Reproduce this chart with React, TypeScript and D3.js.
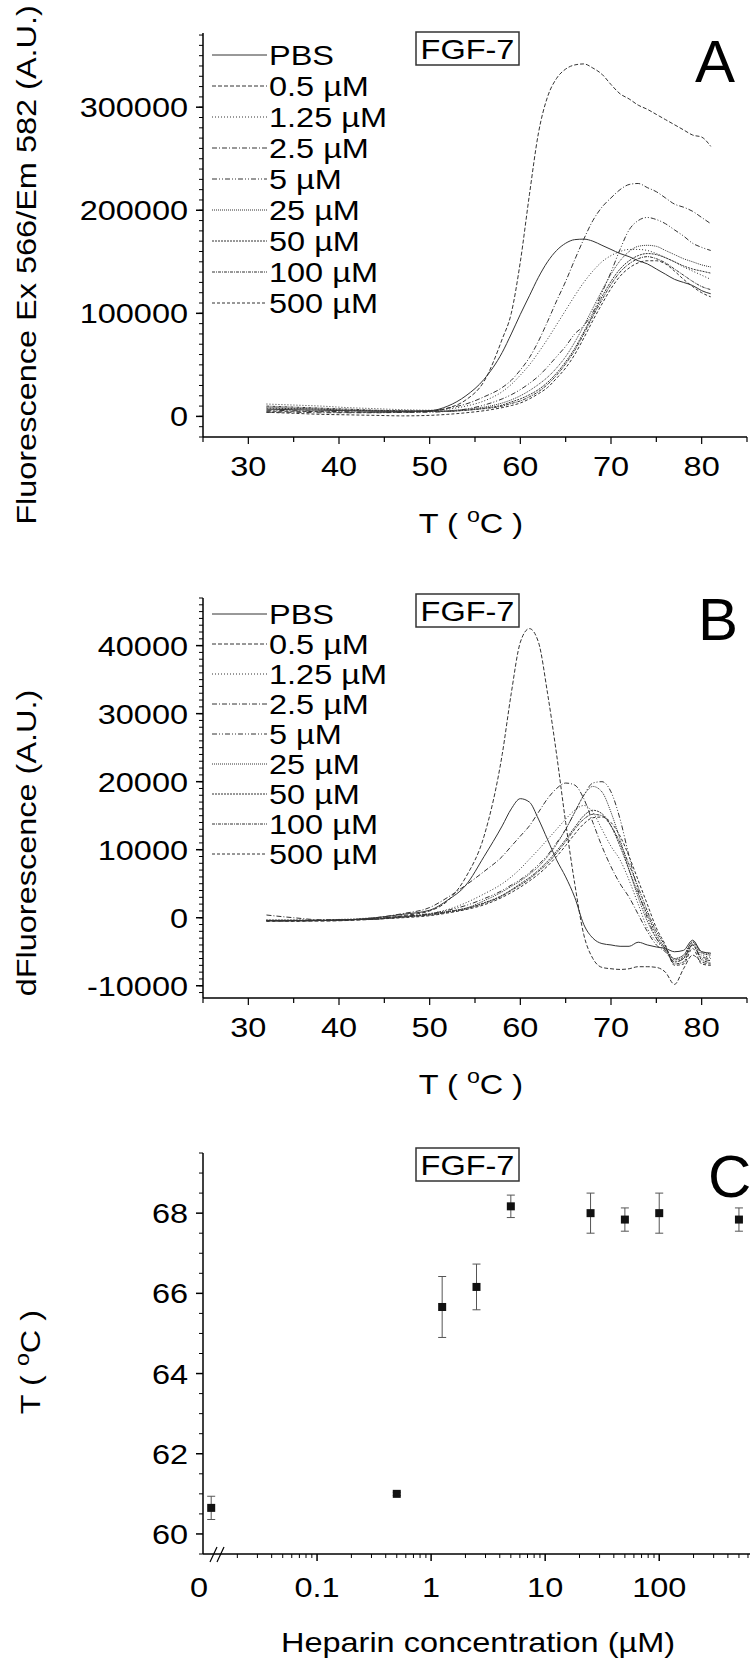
import React from "react";
import * as d3 from "d3";

// ---------- DATA ----------
const TEMPS = [32, 35, 38, 41, 44, 47, 50, 52, 54, 56, 58, 59, 60, 61, 62, 63, 64, 65, 66, 67, 68, 69, 70, 71, 72, 73, 74, 75, 76, 77, 78, 79, 80, 81];
const SERIES_NAMES = ["PBS", "0.5 µM", "1.25 µM", "2.5 µM", "5 µM", "25 µM", "50 µM", "100 µM", "500 µM"];
const DASHES = ["none", "4,2", "1,2", "5,2,1,2", "5,2,1,2,1,2", "1,1", "2,1", "3,1,1,1", "3,2"];

// Panel A: fluorescence, in thousands of A.U.
const A_PBS = [7, 6.5, 6, 5.5, 5, 5, 5.5, 10, 20, 36, 62, 80, 99, 117, 135, 150, 161, 168, 171.5, 172, 170, 166, 162, 158, 155, 151, 148, 143, 138, 133, 130, 127, 122, 119];
const A_0_5 = [5, 5, 4.5, 4, 4, 4, 5, 8, 16, 34, 75, 100, 150, 215, 275, 310, 328, 337, 341, 342, 338, 332, 322, 313, 308, 302, 298, 293, 288, 283, 278, 273, 271, 262];
const A_1_25 = [12, 11, 10, 8.5, 7.5, 6.5, 6, 7, 10, 15, 24, 31, 40, 50, 62, 75, 89, 103, 117, 130, 141, 150, 156, 160, 162, 162, 161, 158, 154, 150, 145, 141, 137, 133];
const A_2_5 = [4, 4, 3.5, 3.5, 3.5, 4, 5, 8, 12, 19, 28, 35, 45, 57, 73, 92, 112, 131, 152, 172, 190, 203, 212, 220, 225, 226, 222, 218, 212, 206, 203, 199, 193, 187];
const A_5 = [6, 5.5, 5, 4.5, 4, 4, 4, 5, 7, 11, 17, 21, 26, 32, 39, 48, 58, 68, 80, 88, 101, 120, 140, 162, 181, 190, 193, 191, 187, 181, 175, 168, 164, 161];
const A_25 = [9, 8, 7, 6, 5.5, 5, 5, 5.5, 7, 9, 13, 16, 20, 25, 31, 38, 47, 58, 72, 88, 105, 122, 138, 151, 160, 165, 166, 165, 161, 157, 153, 150, 147, 145];
const A_50 = [8, 7.5, 7, 6, 5.5, 5, 5, 5, 6, 8, 11, 14, 17, 21, 26, 33, 42, 53, 66, 82, 99, 116, 131, 143, 151, 156, 158, 157, 154, 150, 146, 143, 141, 139];
const A_100 = [10, 9, 8, 7, 6, 5.5, 5, 5, 6, 7.5, 10, 12.5, 15, 19, 24, 31, 40, 51, 64, 80, 97, 113, 128, 140, 148, 153, 155, 153, 149, 143, 137, 131, 126, 123];
const A_500 = [4, 3, 2, 1.5, 1, 0.5, 1, 2, 3.5, 5.5, 8.5, 10.5, 13, 17, 22, 28, 37, 47, 60, 76, 93, 109, 124, 136, 144, 149, 151, 151, 148, 141, 133, 126, 120, 116];

// Panel B: derivative, in thousands of A.U.
const B_PBS = [-0.4, -0.4, -0.4, -0.3, 0, 0.5, 1.1, 2.6, 4.8, 9, 13.5, 16, 17.5, 17, 14.5, 11.5, 8.5, 6, 3, -1, -3, -3.8, -4, -4.2, -4.2, -3.6, -4, -4.3, -4.5, -5, -4.8, -3.3, -5, -5.2];
const B_0_5 = [-0.5, -0.5, -0.5, -0.4, -0.2, 0.3, 1, 2.5, 6, 12, 24, 33, 40.5, 42.5, 40.5, 33, 24, 14, 5, -2.5, -6, -7.3, -7.5, -7.6, -7.5, -7.2, -7.2, -7.3, -8, -9.8, -7.5, -5.5, -6.5, -6.8];
const B_1_25 = [-0.3, -0.3, -0.3, -0.2, 0, 0.2, 0.6, 1.2, 2.2, 3.5, 5, 6, 7.2, 8.6, 10, 11.5, 13, 14.5, 15.8, 16.5, 15.5, 13, 10.5, 8.5, 5.5, 2, -1.5, -3.5, -4.5, -6, -5.5, -3.8, -5.5, -5.8];
const B_2_5 = [0.4, 0, -0.3, -0.3, 0, 0.6, 1.5, 3, 4.8, 6.8, 9, 10.5, 12, 13.5, 15.5, 17.5, 19, 19.8, 19.5, 17.5, 14, 10.5, 7.5, 5, 3, 0.5, -2, -4, -5, -6.5, -6, -4, -5.8, -6];
const B_5 = [-0.4, -0.4, -0.4, -0.3, -0.1, 0.2, 0.6, 1.1, 1.8, 2.8, 4, 4.8, 5.6, 6.6, 7.8, 9.2, 11, 13, 15.5, 18, 19.8, 20, 18.5, 14.5, 9, 4, 0, -3, -4.8, -6.5, -6, -4, -6, -6.3];
const B_25 = [-0.4, -0.4, -0.4, -0.3, -0.2, 0.1, 0.5, 0.9, 1.4, 2.5, 3.8, 4.6, 5.4, 6.4, 7.5, 9, 10.8, 13, 15.5, 18, 19.3, 18.5, 15.5, 11.5, 7, 3, -0.5, -3, -4.5, -6, -5.5, -3.5, -5, -5.3];
const B_50 = [-0.4, -0.4, -0.4, -0.3, -0.2, 0.1, 0.5, 0.9, 1.4, 2.2, 3.3, 4.1, 5, 5.9, 7, 8.3, 9.8, 11.5, 13.3, 15, 15.8, 15.3, 13.5, 10.5, 7, 3.5, 0.5, -2.5, -4.5, -6.2, -5.8, -3.6, -5.2, -5.5];
const B_100 = [-0.5, -0.5, -0.4, -0.3, -0.2, 0.1, 0.4, 0.8, 1.3, 2.1, 3.2, 4, 4.8, 5.7, 6.8, 8, 9.5, 11.2, 13, 14.5, 15.2, 15, 13.5, 11, 7.8, 4.5, 1, -2, -4.2, -6.8, -6.5, -4, -6.2, -6.6];
const B_500 = [-0.5, -0.5, -0.4, -0.3, -0.2, 0, 0.3, 0.7, 1.2, 1.9, 3, 3.7, 4.5, 5.4, 6.4, 7.6, 9, 10.6, 12.3, 13.8, 14.7, 14.8, 14, 12, 9, 5.5, 2, -1.5, -4, -7, -6.8, -4.5, -6.8, -7];

// Panel C: melting temperature vs heparin concentration
const C_CONC = [0, 0.5, 1.25, 2.5, 5, 25, 50, 100, 500];
const C_TM = [60.65, 61.0, 65.66, 66.16, 68.17, 68.0, 67.84, 68.0, 67.84];
const C_ERR = [0.29, 0.04, 0.76, 0.57, 0.28, 0.5, 0.29, 0.5, 0.29];
const C_ZERO_AT = 0.0118; // position on the broken log axis where "0" is drawn

// Tick labels
const A_YTICKS = [0, 100, 200, 300];
const B_YTICKS = [-10, 0, 10, 20, 30, 40];
const T_XTICKS = [30, 40, 50, 60, 70, 80];
const C_YTICKS = [60, 62, 64, 66, 68];
const C_XTICKS = [0.1, 1, 10, 100];

const A_SERIES = [A_PBS, A_0_5, A_1_25, A_2_5, A_5, A_25, A_50, A_100, A_500];
const B_SERIES = [B_PBS, B_0_5, B_1_25, B_2_5, B_5, B_25, B_50, B_100, B_500];

const FONT = "'Liberation Sans', Arial, Helvetica, sans-serif";
const SX = 1.16;
const LINE_COLOR = "#333";

function HText({ x, y, anchor = "start", size = 28, sx = SX, children }: any) {
  return (
    <text transform={`translate(${x},${y}) scale(${sx},1)`} textAnchor={anchor} fontSize={size} fill="#000">
      {children}
    </text>
  );
}

function VText({ x, y, size = 28, sx = SX, children }: any) {
  return (
    <text transform={`translate(${x},${y}) rotate(-90) scale(${sx},1)`} textAnchor="middle" fontSize={size} fill="#000">
      {children}
    </text>
  );
}

function TitleT({ x, y, rotate = false }: any) {
  const body = (
    <>
      <tspan>T ( </tspan>
      <tspan fontSize={20} dy={-11}>o</tspan>
      <tspan dy={11}>C )</tspan>
    </>
  );
  return rotate ? <VText x={x} y={y}>{body}</VText> : <HText x={x} y={y} anchor="middle">{body}</HText>;
}

function Legend({ x0, y0, step }: any) {
  return (
    <g>
      {SERIES_NAMES.map((n, i) => (
        <g key={n}>
          <line x1={x0} x2={x0 + 55} y1={y0 + i * step} y2={y0 + i * step} stroke={LINE_COLOR} strokeWidth={1} strokeDasharray={DASHES[i]} />
          <HText x={x0 + 57} y={y0 + i * step + 10}>{n}</HText>
        </g>
      ))}
    </g>
  );
}

function FGFBox({ y }: any) {
  return (
    <g>
      <rect x={416} y={y} width={103} height={33} fill="none" stroke="#333" strokeWidth={1.5} />
      <HText x={467.5} y={y + 27} anchor="middle">FGF-7</HText>
    </g>
  );
}

function TempPanel({ yScale, series, majors, minorStep, xAxisY, topY, fmt }: any) {
  const xT = d3.scaleLinear().domain([25, 85]).range([203, 747]);
  const line = d3
    .line<number>()
    .x((_, i) => xT(TEMPS[i]))
    .y((d) => yScale(d))
    .curve(d3.curveMonotoneX);
  const [d0, d1] = yScale.domain();
  const minors = d3.range(Math.ceil(d0 / minorStep) * minorStep, d1 + 1e-9, minorStep);
  const xMinors = d3.range(25, 86, 5);
  return (
    <g>
      {series.map((s: number[], i: number) => (
        <path key={i} d={line(s) || ""} fill="none" stroke={LINE_COLOR} strokeWidth={1} strokeDasharray={DASHES[i]} />
      ))}
      {/* y axis */}
      <line x1={203} x2={203} y1={topY} y2={xAxisY} stroke="#000" strokeWidth={1.5} />
      {minors.map((v: number, i: number) => (
        <line key={"m" + i} x1={199} x2={203} y1={yScale(v)} y2={yScale(v)} stroke="#000" strokeWidth={1} />
      ))}
      {majors.map((v: number) => (
        <g key={"M" + v}>
          <line x1={196} x2={203} y1={yScale(v)} y2={yScale(v)} stroke="#000" strokeWidth={1.5} />
          <HText x={188} y={yScale(v) + 10} anchor="end">{fmt(v)}</HText>
        </g>
      ))}
      {/* x axis */}
      <line x1={203} x2={747} y1={xAxisY} y2={xAxisY} stroke="#000" strokeWidth={1.5} />
      {xMinors.map((v) => (
        <line key={"xm" + v} x1={xT(v)} x2={xT(v)} y1={xAxisY} y2={xAxisY + (v % 10 === 0 ? 7 : 5)} stroke="#000" strokeWidth={1.2} />
      ))}
      {T_XTICKS.map((v) => (
        <HText key={"xl" + v} x={xT(v)} y={xAxisY + 39} anchor="middle">{v}</HText>
      ))}
      <TitleT x={471} y={xAxisY + 96} />
    </g>
  );
}

export default function App() {
  const yA = d3.scaleLinear().domain([-20, 372]).range([437, 33]);
  const yB = d3.scaleLinear().domain([-11.8, 47]).range([998, 598]);
  const xC = d3.scaleLog().domain([0.01, 625]).range([203, 750]);
  const yC = d3.scaleLinear().domain([59.5, 69.5]).range([1554, 1153]);
  const cx = (c: number) => xC(c === 0 ? C_ZERO_AT : c);

  const cMinors: number[] = [];
  [0.01, 0.1, 1, 10, 100].forEach((dec) => {
    for (let m = 2; m <= 9; m++) {
      const v = m * dec;
      if (v >= 0.02 && v <= 625) cMinors.push(v);
    }
  });
  const cYMinors = d3.range(59.5, 69.51, 0.5).filter((v) => v % 2 !== 0);

  return (
    <svg width={750} height={1664} style={{ position: "absolute", left: 0, top: 0, background: "#fff" }} fontFamily={FONT}>
      <rect x={0} y={0} width={750} height={1664} fill="#fff" />

      {/* ---------- Panel A ---------- */}
      <TempPanel yScale={yA} series={A_SERIES} majors={A_YTICKS} minorStep={10} xAxisY={437} topY={33} fmt={(v: number) => String(v * 1000)} />
      <Legend x0={212} y0={55} step={31} />
      <FGFBox y={32} />
      <text x={695} y={82} fontSize={60} fontFamily={FONT}>A</text>
      <VText x={36} y={265}>Fluorescence Ex 566/Em 582 (A.U.)</VText>

      {/* ---------- Panel B ---------- */}
      <TempPanel yScale={yB} series={B_SERIES} majors={B_YTICKS} minorStep={1} xAxisY={998} topY={598} fmt={(v: number) => String(v * 1000)} />
      <Legend x0={212} y0={614} step={30} />
      <FGFBox y={594} />
      <text x={698} y={640} fontSize={60} fontFamily={FONT}>B</text>
      <VText x={36} y={843}>dFluorescence (A.U.)</VText>

      {/* ---------- Panel C ---------- */}
      <g>
        {C_CONC.map((c, i) => {
          const x = cx(c);
          const e = C_ERR[i];
          return (
            <g key={"e" + i}>
              <line x1={x} x2={x} y1={yC(C_TM[i] - e)} y2={yC(C_TM[i] + e)} stroke="#555" strokeWidth={1} />
              <line x1={x - 4} x2={x + 4} y1={yC(C_TM[i] - e)} y2={yC(C_TM[i] - e)} stroke="#555" strokeWidth={1} />
              <line x1={x - 4} x2={x + 4} y1={yC(C_TM[i] + e)} y2={yC(C_TM[i] + e)} stroke="#555" strokeWidth={1} />
              <rect x={x - 4} y={yC(C_TM[i]) - 4} width={8} height={8} fill="#111" />
            </g>
          );
        })}
        {/* y axis */}
        <line x1={203} x2={203} y1={1153} y2={1554} stroke="#000" strokeWidth={1.5} />
        {cYMinors.map((v, i) => (
          <line key={"cym" + i} x1={199} x2={203} y1={yC(v)} y2={yC(v)} stroke="#000" strokeWidth={1} />
        ))}
        {C_YTICKS.map((v) => (
          <g key={"cy" + v}>
            <line x1={196} x2={203} y1={yC(v)} y2={yC(v)} stroke="#000" strokeWidth={1.5} />
            <HText x={188} y={yC(v) + 10} anchor="end">{v}</HText>
          </g>
        ))}
        {/* x axis */}
        <line x1={203} x2={750} y1={1554} y2={1554} stroke="#000" strokeWidth={1.5} />
        {cMinors.map((v, i) => (
          <line key={"cxm" + i} x1={xC(v)} x2={xC(v)} y1={1554} y2={1558} stroke="#000" strokeWidth={1} />
        ))}
        {C_XTICKS.map((v) => (
          <g key={"cx" + v}>
            <line x1={xC(v)} x2={xC(v)} y1={1554} y2={1561} stroke="#000" strokeWidth={1.5} />
            <HText x={xC(v)} y={1597} anchor="middle">{String(v)}</HText>
          </g>
        ))}
        <HText x={199} y={1597} anchor="middle">0</HText>
        {/* axis break marks */}
        <line x1={210} x2={217} y1={1562} y2={1547} stroke="#000" strokeWidth={1.2} />
        <line x1={217} x2={224} y1={1562} y2={1547} stroke="#000" strokeWidth={1.2} />
        <FGFBox y={1148} />
        <text x={708} y={1197} fontSize={60} fontFamily={FONT}>C</text>
        <TitleT x={40} y={1362} rotate />
        <HText x={478} y={1652} anchor="middle">Heparin concentration (µM)</HText>
      </g>
    </svg>
  );
}
